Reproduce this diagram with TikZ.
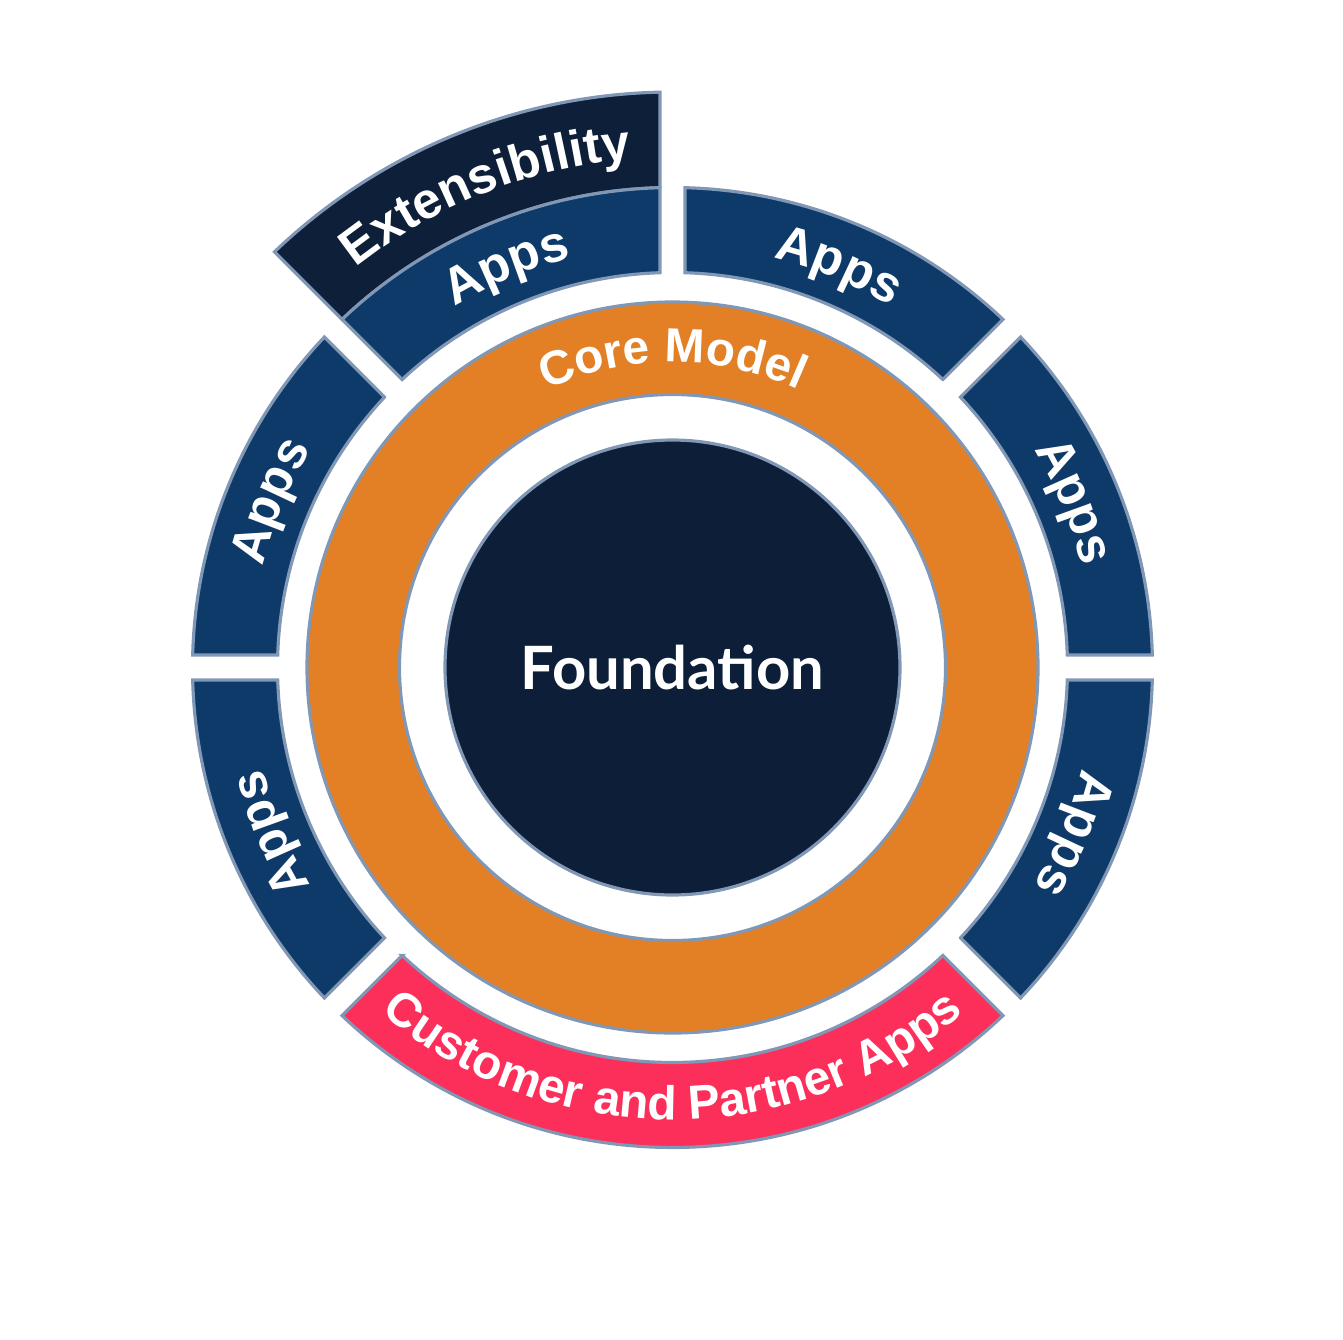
\documentclass[tikz,border=0pt]{standalone}
\usepackage{fontspec}
\setmainfont{Liberation Sans}
\newfontfamily\fndfont{Lato}
\usetikzlibrary{decorations.text}

\definecolor{appsblue}{HTML}{0D3A69}
\definecolor{fndnavy}{HTML}{0D1F38}
\definecolor{extnavy}{HTML}{0E2039}
\definecolor{coreorange}{HTML}{E37F25}
\definecolor{partnerpink}{HTML}{FC2F5B}
\definecolor{edgegray}{HTML}{8197B6}

% ring piece between angles #1<#2, radii #3<#4, half gap 0.125
\newcommand{\ringseg}[5]{%
  \draw[#5] ({#1+asin(0.125/#3)}:#3) -- ({#1+asin(0.125/#4)}:#4)
    arc[start angle={#1+asin(0.125/#4)}, end angle={#2-asin(0.125/#4)}, radius=#4]
    -- ({#2-asin(0.125/#3)}:#3)
    arc[start angle={#2-asin(0.125/#3)}, end angle={#1+asin(0.125/#3)}, radius=#3]
    -- cycle;}
\newcommand{\seglabel}{\fontsize{14.5}{17}\selectfont\bfseries\color{white}}
\newcommand{\smallseglabel}{\fontsize{13.6}{16}\selectfont\bfseries\color{white}}

\begin{document}
\begin{tikzpicture}[
    seg/.style={draw=edgegray, line width=0.9pt},
    appsseg/.style={seg, fill=appsblue},
    arclabel/.style={decorate, decoration={text along path, text align=center, text={|\seglabel|#1}}},
    smallarclabel/.style={decorate, decoration={text along path, text align=center, text={|\smallseglabel|#1}}}
  ]
  \useasboundingbox (-6.725,-6.715) rectangle (6.705,6.675);

  % outer pieces
  \ringseg{90}{135}{4.80}{5.755}{seg, fill=extnavy}
  \foreach \a in {0,45,90,135,180,-45}
    {\ringseg{\a}{\a+45}{3.95}{4.80}{appsseg}}
  \ringseg{-135}{-45}{3.95}{4.80}{seg, fill=partnerpink}

  % core ring and foundation
  \draw[seg, fill=coreorange, even odd rule] (0,0) circle[radius=3.655] (0,0) circle[radius=2.73];
  \node[circle, minimum size=4.55cm, draw=edgegray, line width=0.9pt, fill=fndnavy,
        text=white, font=\fndfont\fontsize{17}{20}\selectfont\bfseries] (fnd) at (0,0) {Foundation};

  % labels
  \foreach \a in {45,90,135,180,225,0}
    \path[arclabel=Apps] (\a:4.22) arc[start angle=\a, end angle=\a-45, radius=4.22];
  \path[arclabel=Extensibility] (134:5.10) arc[start angle=134, end angle=89, radius=5.10];
  \path[smallarclabel=Core Model] (180:3.05) arc[start angle=180, end angle=0, radius=3.05];
  \path[smallarclabel=Customer and Partner Apps] (-180:4.52) arc[start angle=-180, end angle=0, radius=4.52];
\end{tikzpicture}
\end{document}
